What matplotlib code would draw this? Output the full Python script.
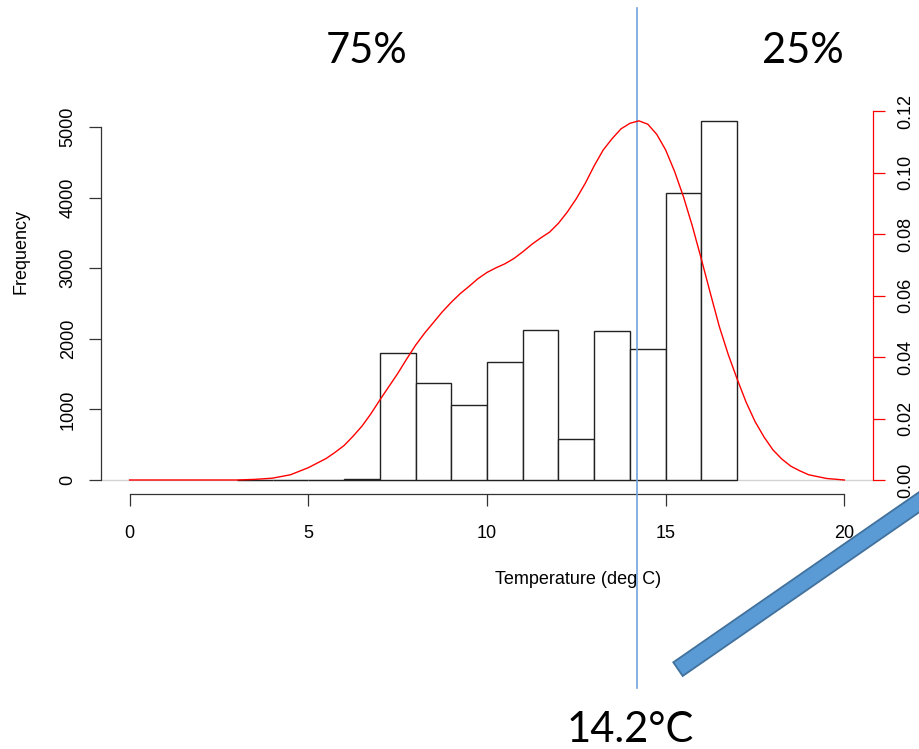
"""Histogram of temperature with density overlay and 14.2 degC split marker."""

import matplotlib
matplotlib.use('Agg')

import matplotlib.pyplot as plt
import matplotlib.transforms as mtransforms
from matplotlib.patches import Polygon
import numpy as np

# ── Data ─────────────────────────────────────────────────────────────────────
BIN_EDGES = [3, 4, 5, 6, 7, 8, 9, 10, 11, 12, 13, 14, 15, 16, 17]
COUNTS = [0, 0, 0, 18, 1803, 1378, 1067, 1676, 2125, 585, 2106, 1860, 4065, 5089]

DENS_T = [0, 1, 2, 3, 3.5, 4, 4.5, 5, 5.5, 5.75, 6, 6.25, 6.5, 6.75, 7,
          7.25, 7.5, 7.75, 8, 8.25, 8.5, 8.75, 9, 9.25, 9.5, 9.75, 10,
          10.25, 10.5, 10.75, 11, 11.25, 11.5, 11.75, 12, 12.25, 12.5,
          12.75, 13, 13.25, 13.5, 13.75, 14, 14.25, 14.5, 14.75, 15, 15.25,
          15.5, 15.75, 16, 16.25, 16.5, 16.75, 17, 17.25, 17.5, 17.75, 18,
          18.25, 18.5, 18.75, 19, 19.5, 20]
DENS_Y = [0, 0, 0, 0, 0.0002, 0.0006, 0.0017, 0.0040, 0.0070, 0.0090,
          0.0112, 0.0142, 0.0175, 0.0215, 0.0260, 0.0303, 0.0346, 0.0393,
          0.0438, 0.0477, 0.0512, 0.0547, 0.0578, 0.0606, 0.0630, 0.0655,
          0.0675, 0.0690, 0.0703, 0.0720, 0.0742, 0.0766, 0.0787, 0.0806,
          0.0835, 0.0872, 0.0915, 0.0965, 0.1022, 0.1073, 0.1110, 0.1142,
          0.1160, 0.1168, 0.1157, 0.1124, 0.1073, 0.1003, 0.0920, 0.0824,
          0.0717, 0.0607, 0.0499, 0.0408, 0.0328, 0.0253, 0.0190, 0.0140,
          0.0098, 0.0068, 0.0045, 0.0030, 0.0017, 0.0005, 0]

FREQ_TICKS = [0, 1000, 2000, 3000, 4000, 5000]
DENS_TICKS = [0.00, 0.02, 0.04, 0.06, 0.08, 0.10, 0.12]
TEMP_TICKS = [0, 5, 10, 15, 20]
SPLIT_T = 14.2
PCT_LEFT, PCT_RIGHT = "75%", "25%"

W, H = 920, 749
R_FONT = 'Liberation Sans'
PPT_FONT = 'Lato'


def px(x, y):
    """figure pixel (top-left origin) -> figure fraction"""
    return x / W, 1 - y / H


def main() -> None:
    fig = plt.figure(figsize=(W / 100, H / 100), dpi=100)
    fig.patch.set_facecolor('white')

    ax = fig.add_axes([101 / W, 1 - 494 / H, 772 / W, 488 / H])
    ax.set_facecolor('none')
    ax.set_xlim(-0.8, 20.8)
    ax.set_ylim(-14 / 0.0706, 474 / 0.0706)

    # baseline + histogram
    ax.axhline(0, color='#d3d3d3', lw=1.0, zorder=1)
    lefts = np.array(BIN_EDGES[:-1])
    ax.bar(lefts, COUNTS, width=np.diff(BIN_EDGES), align='edge',
           facecolor='white', edgecolor='#222222', lw=1.0, zorder=2)

    for s in ('top', 'right'):
        ax.spines[s].set_visible(False)
    ax.spines['left'].set_bounds(0, 5000)
    ax.spines['bottom'].set_bounds(0, 20)
    for s in ('left', 'bottom'):
        ax.spines[s].set_color('#333333')
        ax.spines[s].set_linewidth(0.9)

    ax.set_xticks(TEMP_TICKS)
    ax.set_xticklabels([str(t) for t in TEMP_TICKS])
    ax.set_yticks(FREQ_TICKS)
    ax.set_yticklabels([str(t) for t in FREQ_TICKS])
    ax.tick_params(axis='both', direction='out', length=8.5, width=0.9,
                   color='#333333', labelsize=13)
    ax.tick_params(axis='x', pad=14)
    ax.tick_params(axis='y', pad=9, labelrotation=90)
    for lab in ax.get_yticklabels():
        lab.set_va('center')
    for lab in ax.get_xticklabels() + ax.get_yticklabels():
        lab.set_fontfamily(R_FONT)

    # density on right axis
    ax2 = ax.twinx()
    ax2.set_ylim(-14 / 3075, 474 / 3075)
    ax2.plot(DENS_T, DENS_Y, color='red', lw=1.0, zorder=3)
    for s in ('top', 'left', 'bottom'):
        ax2.spines[s].set_visible(False)
    ax2.spines['right'].set_bounds(0, 0.12)
    ax2.spines['right'].set_color('red')
    ax2.spines['right'].set_linewidth(0.9)
    ax2.set_yticks(DENS_TICKS)
    ax2.set_yticklabels([f'{t:.2f}' for t in DENS_TICKS])
    ax2.tick_params(axis='y', direction='out', length=8.5, width=0.9,
                    color='red', labelsize=13, pad=9, labelrotation=90)
    for lab in ax2.get_yticklabels():
        lab.set_va('center')
        lab.set_fontfamily(R_FONT)

    # axis titles
    fig.text(*px(578, 580), 'Temperature (deg C)', ha='center', va='center',
             fontsize=13, family=R_FONT)
    fig.text(*px(21, 252), 'Frequency', ha='center', va='center',
             rotation=90, fontsize=13, family=R_FONT)

    # split marker line
    trans = mtransforms.blended_transform_factory(ax.transData, fig.transFigure)
    ax.plot([SPLIT_T, SPLIT_T], [1 - 8 / H, 1 - 688 / H], transform=trans,
            color='#6fa3dc', lw=1.2, clip_on=False, zorder=4)

    fig.text(*px(367, 63), PCT_LEFT, ha='center', va='baseline',
             fontsize=30, family=PPT_FONT)
    fig.text(*px(803, 63), PCT_RIGHT, ha='center', va='baseline',
             fontsize=30, family=PPT_FONT)
    fig.text(*px(630, 742), f'{SPLIT_T}\u00b0C', ha='center', va='baseline',
             fontsize=30, family=PPT_FONT)

    # blue pointer bar
    corners = [px(673.3, 662.3), px(682.7, 676.0),
               px(945.7, 493.9), px(936.3, 480.2)]
    fig.patches.append(Polygon(corners, closed=True, transform=fig.transFigure,
                               facecolor='#5b9bd5', edgecolor='#41719c',
                               lw=1.3, zorder=5))

    fig.savefig('out.png', dpi=100, facecolor='white')
    plt.close(fig)


if __name__ == "__main__":
    main()
